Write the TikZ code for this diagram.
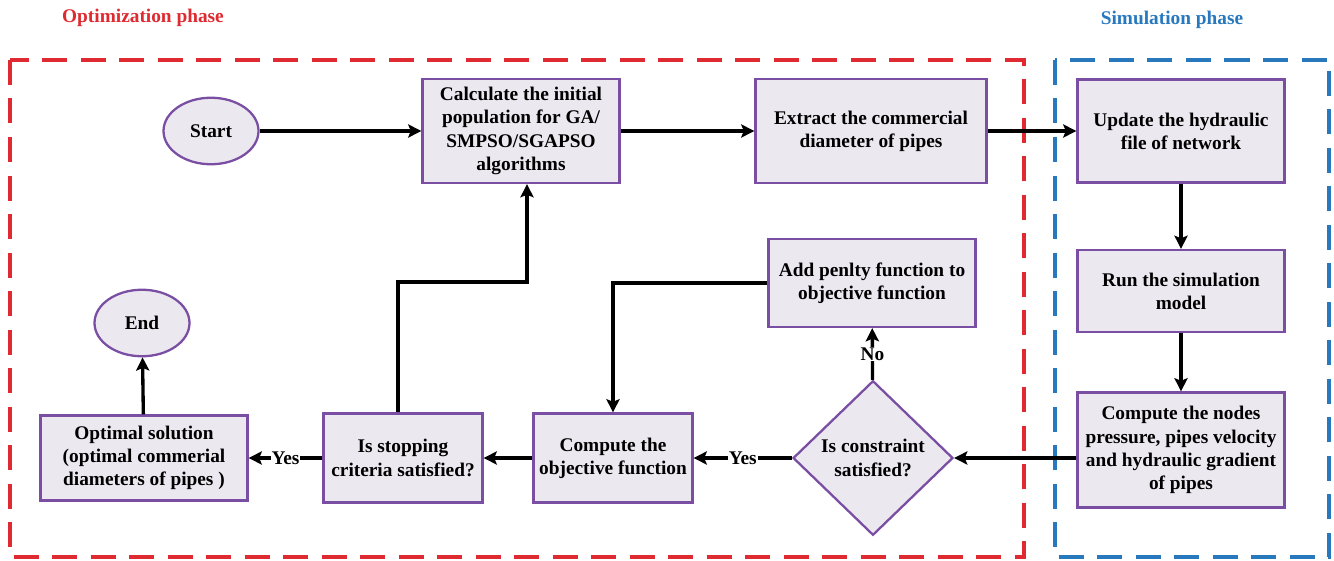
\documentclass[tikz,border=0pt]{standalone}
\usepackage{fontspec}
\setmainfont{Liberation Serif}
\usetikzlibrary{
    arrows.meta,
    calc,
    positioning,
    shapes.geometric
}
\definecolor{optred}{HTML}{DE2A30}
\definecolor{simblue}{HTML}{2878BE}
\definecolor{boxedge}{HTML}{7A4FA3}
\definecolor{boxfill}{HTML}{ECE8F0}
\tikzset{
    every picture/.style = {
        > = {Stealth[length = 7.5pt, width = 7.5pt, inset = 1.5pt]},
        x = 0.2mm,
        y = -0.2mm
    },
    every node/.style = {
        font = \bfseries\fontsize{11}{13.2}\selectfont,
        align = center
    },
    step box/.style = {
        draw = boxedge,
        line width = 1.3pt,
        fill = boxfill,
        inner sep = 2pt
    },
    term/.style = {
        step box,
        ellipse,
        minimum width = 19mm,
        minimum height = 13.3mm
    },
    decision/.style = {
        step box,
        diamond,
        minimum width = 32mm,
        minimum height = 29.6mm
    },
    flow/.style = {
        ->,
        line width = 1.9pt
    },
    answer/.style = {
        fill = white,
        inner sep = 0.5pt
    },
    phase/.style = {
        line width = 2.3pt,
        dash pattern = on 5mm off 2.7mm
    }
}

\begin{document}
\begin{tikzpicture}
    \useasboundingbox (0, 0) rectangle (1334, 561);

    % phases
    \draw[phase, optred] (10, 60) rectangle (1024, 557);
    \draw[phase, simblue] (1055, 60) rectangle (1329, 557);
    \node[text = optred, font = \bfseries\fontsize{11}{13}\selectfont] (optlabel) at (143, 18) {Optimization phase};
    \node[text = simblue, font = \bfseries\fontsize{11}{13}\selectfont] (simlabel) at (1172, 20) {Simulation phase};

    % top row
    \node[term] (start) at (211, 131) {Start};
    \node[step box, minimum width = 39.4mm, minimum height = 20.8mm] (calc) at (521, 131)
        {Calculate the initial\\population for GA/\\SMPSO/SGAPSO\\algorithms};
    \node[step box, minimum width = 46.2mm, minimum height = 20.8mm] (extract) at (871, 131)
        {Extract the commercial\\diameter of pipes};
    \node[step box, minimum width = 41.4mm, minimum height = 20.6mm] (update) at (1181, 131)
        {Update the hydraulic\\file of network};

    % simulation column
    \node[step box, minimum width = 41.4mm, minimum height = 16.4mm] (run) at (1181, 291)
        {Run the simulation\\model};
    \node[step box, minimum width = 41.4mm, minimum height = 23mm] (nodes) at (1181, 450)
        {Compute the nodes\\pressure, pipes velocity\\and hydraulic gradient\\of pipes};

    % bottom row
    \node[decision] (constr) at (873, 458) {Is constraint\\satisfied?};
    \node[step box, minimum width = 41.4mm, minimum height = 17.6mm] (penalty) at (872, 283)
        {Add penlty function to\\objective function};
    \node[step box, minimum width = 31.8mm, minimum height = 17.8mm] (objfn) at (613, 458)
        {Compute the\\objective function};
    \node[step box, minimum width = 31.8mm, minimum height = 17.8mm] (stop) at (403, 458)
        {Is stopping\\criteria satisfied?};
    \node[step box, minimum width = 41.4mm, minimum height = 17mm] (opt) at (144, 458)
        {Optimal solution\\(optimal commerial\\diameters of pipes )};
    \node[term] (end) at (142, 323) {End};

    \coordinate (back) at (0, 282);

    \draw[flow] (start) -- (calc);
    \draw[flow] (calc) -- (extract);
    \draw[flow] (extract) -- (update);
    \draw[flow] (update) -- (run);
    \draw[flow] (run) -- (nodes);
    \draw[flow] (constr.east -| nodes.west) -- (constr.east);
    \draw[flow] (constr) -- node[answer] {Yes} (objfn);
    \draw[flow] (constr) -- node[answer] {No} (penalty);
    \draw[flow] (penalty.west) -| (objfn.north);
    \draw[flow] (objfn) -- (stop);
    \draw[flow] ($(stop.north) + (-5, 0)$) -- ($(stop.north |- back) + (-5, 0)$) -| ($(calc.south) + (6, 0)$);
    \draw[flow] (stop) -- node[answer] {Yes} (opt);
    \draw[flow] (opt) -- (end);
\end{tikzpicture}
\end{document}
